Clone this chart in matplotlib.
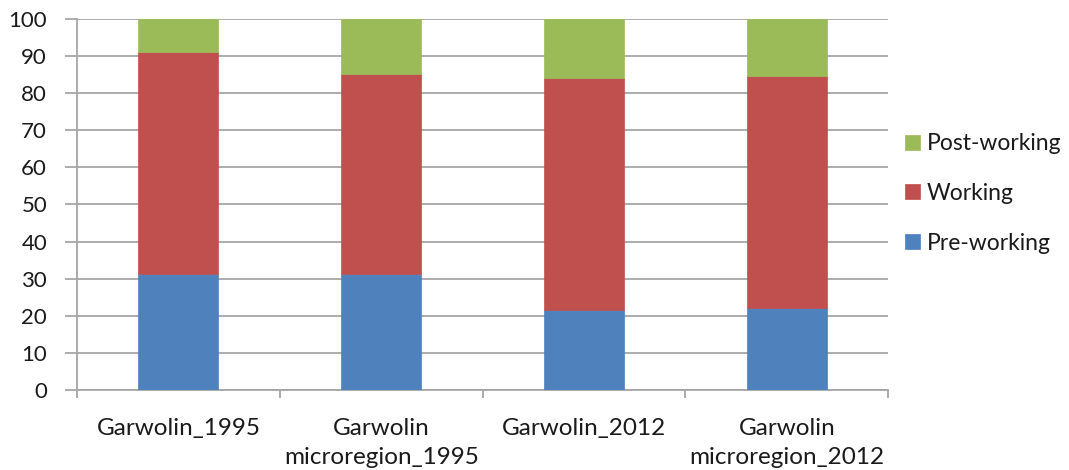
import matplotlib
matplotlib.use("Agg")
import matplotlib.pyplot as plt
import numpy as np

categories = ["Garwolin_1995", "Garwolin\nmicroregion_1995", "Garwolin_2012", "Garwolin\nmicroregion_2012"]
pre_working = [31.3, 31.3, 21.6, 22.1]
working = [59.8, 54.0, 62.6, 62.6]
post_working = [8.9, 14.7, 15.8, 15.3]
series_names = ["Pre-working", "Working", "Post-working"]
colors = ["#4F81BD", "#C0504D", "#9BBB59"]
yticks = list(range(0, 101, 10))

plt.rcParams['font.family'] = ['Lato', 'DejaVu Sans']
text_color = "#1a1a1a"
grid_color = "#a6a6a6"

fig = plt.figure(figsize=(10.69, 4.70), dpi=100)
ax = fig.add_axes([0.072, 0.1702, 0.759, 0.7894])

x = np.arange(len(categories))
width = 0.395
bottoms = np.zeros(len(categories))
handles = []
for vals, name, c in zip([pre_working, working, post_working], series_names, colors):
    b = ax.bar(x, vals, width, bottom=bottoms, color=c, label=name, zorder=3,
               edgecolor=c, linewidth=0.5)
    handles.append(b)
    bottoms = bottoms + np.array(vals)

ax.set_xlim(-0.5, len(categories) - 0.5)
ax.set_ylim(0, 100)
ax.set_yticks(yticks)
ax.yaxis.grid(True, color=grid_color, linewidth=1.3, zorder=0)
ax.set_axisbelow(True)

for s in ["top", "right"]:
    ax.spines[s].set_visible(False)
for s in ["left", "bottom"]:
    ax.spines[s].set_color(grid_color)
    ax.spines[s].set_linewidth(1.3)

ax.tick_params(axis='y', length=8.5, width=1.3, color=grid_color, labelsize=16,
               labelcolor=text_color, pad=13)
# x ticks: marks at category boundaries, labels at centers
ax.set_xticks(np.arange(-0.5, len(categories), 1.0))
ax.set_xticklabels([])
ax.tick_params(axis='x', which='major', length=6, width=1.3, color=grid_color)
ax.set_xticks(x, minor=True)
ax.set_xticklabels(categories, minor=True, fontsize=17.5, color=text_color, linespacing=1.5)
ax.tick_params(axis='x', which='minor', length=0, pad=20)

leg = ax.legend(handles[::-1], series_names[::-1], loc='center left',
                bbox_to_anchor=(0.995, 0.53), frameon=False, fontsize=16.5,
                handlelength=0.65, handleheight=0.65, handletextpad=0.3,
                labelspacing=1.25, labelcolor=text_color)

fig.savefig("out.png", dpi=100)
